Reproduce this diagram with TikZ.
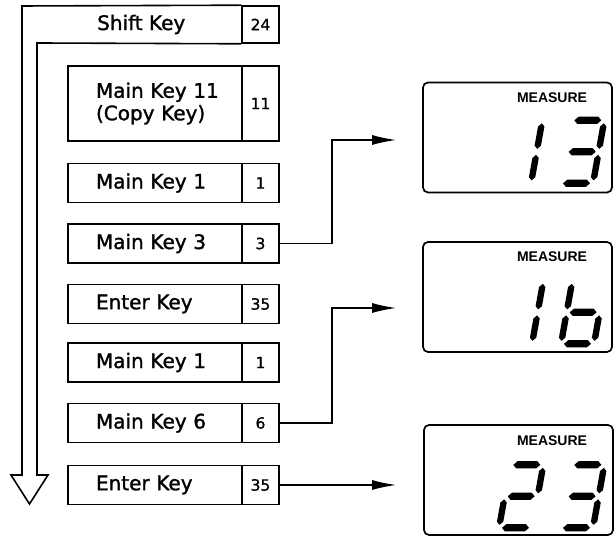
\documentclass[tikz,border=0pt]{standalone}
\usepackage{fontspec}
\setmainfont{DejaVu Sans}[FakeBold=1.4]
\newfontfamily\numfamily{DejaVu Sans}[FakeBold=1.0]
\newfontfamily\measfamily{Liberation Sans}
\usetikzlibrary{arrows.meta,calc}
\newcommand\myKeyFont{\fontsize{20}{22.5}\selectfont}
\newcommand\myNumFont{\numfamily\fontsize{15.5}{18}\selectfont}
\newcommand\myMeasFont{\measfamily\bfseries\fontsize{14}{16}\selectfont}
% seven-segment pieces (cell 33 x 63, unslanted)
\newcommand\lcdH[3]{\fill ({#1},{#3}) -- ({#1+3.6},{#3+3.6}) -- ({#2-3.6},{#3+3.6}) -- ({#2},{#3}) -- ({#2-3.6},{#3-3.6}) -- ({#1+3.6},{#3-3.6}) -- cycle;}
\newcommand\lcdV[3]{\fill ({#1},{#2}) -- ({#1+3.2},{#2+3.2}) -- ({#1+3.2},{#3-3.2}) -- ({#1},{#3}) -- ({#1-3.2},{#3-3.2}) -- ({#1-3.2},{#2+3.2}) -- cycle;}
\newcommand\sgA{\lcdH{3}{30}{63}}
\newcommand\sgG{\lcdH{3}{30}{31.5}}
\newcommand\sgD{\lcdH{3}{30}{0}}
\newcommand\sgB{\lcdV{33}{34.5}{60}}
\newcommand\sgC{\lcdV{33}{3}{28.5}}
\newcommand\sgE{\lcdV{0}{3}{28.5}}
\newcommand\sgF{\lcdV{0}{34.5}{60}}
\newcommand\lcddigit[2]{\begin{scope}[shift={#1},xslant=0.18]#2\end{scope}}
\begin{document}
\begin{tikzpicture}[x=1pt,y=1pt,line join=miter,
  keybox/.style={draw,line width=1.6pt,minimum width=174pt,minimum height=39pt,
    text width=118pt,inner xsep=28pt,inner ysep=0pt,align=left,font=\myKeyFont},
  numcell/.style={draw,line width=1.6pt,minimum width=37pt,minimum height=39pt,
    inner sep=0pt,font=\myNumFont},
  keytext/.style={inner sep=0pt,font=\myKeyFont},
  disp/.style={draw,line width=1.7pt,rounded corners=5pt,minimum width=189pt,
    minimum height=110pt,inner sep=0pt},
  measure/.style={inner sep=0pt,font=\myMeasFont},
  conn/.style={line width=1.4pt,-{Latex[length=24pt,width=10pt]}},
  outline/.style={line width=1.6pt}]
\useasboundingbox (0,0) rectangle (614,537);

% shift key with hollow arrow
\node[numcell,minimum height=37pt] (n1) at (260.5,512.5) {24};
\node[keytext,anchor=west] (shift) at (97,512.5) {Shift Key};
\draw[outline] (n1.north west) -- (22,531) -- (22,62) -- (11,62) -- (29.5,33)
  -- (48,62) -- (37,62) -- (37,494) -- (n1.south west);

% key boxes
\node[keybox,minimum height=75pt] (k2) at (155,433.5) {\mbox{Main Key 11}\\(Copy Key)};
\node[numcell,minimum height=75pt] (n2) at (260.5,433.5) {11};
\node[keybox] (k3) at (155,354) {Main Key 1};
\node[numcell] (n3) at (260.5,354) {1};
\node[keybox] (k4) at (155,293.5) {Main Key 3};
\node[numcell] (n4) at (260.5,293.5) {3};
\node[keybox] (k5) at (155,233) {Enter Key};
\node[numcell] (n5) at (260.5,233) {35};
\node[keybox] (k6) at (155,174.5) {Main Key 1};
\node[numcell] (n6) at (260.5,174.5) {1};
\node[keybox] (k7) at (155,114) {Main Key 6};
\node[numcell] (n7) at (260.5,114) {6};
\node[keybox] (k8) at (155,52) {Enter Key};
\node[numcell] (n8) at (260.5,52) {35};

% displays
\node[disp] (d1) at (517.5,399.5) {};
\node[disp] (d2) at (517.5,240) {};
\node[disp] (d3) at (518.5,57) {};
\node[measure] (m1) at ($(d1.north)+(34.5,-16)$) {MEASURE};
\node[measure] (m2) at ($(d2.north)+(34.5,-16)$) {MEASURE};
\node[measure] (m3) at ($(d3.north)+(33.5,-17)$) {MEASURE};

% LCD digits
\lcddigit{($(d1.south)+(-19.5,10)$)}{\sgB\sgC}
\lcddigit{($(d1.south)+(42.5,10)$)}{\sgA\sgB\sgG\sgC\sgD}
\lcddigit{($(d2.south)+(-18.5,9)$)}{\sgB\sgC}
\lcddigit{($(d2.south)+(43.5,9)$)}{\sgF\sgE\sgG\sgC\sgD}
\lcddigit{($(d3.south)+(-19.5,8)$)}{\sgA\sgB\sgG\sgE\sgD}
\lcddigit{($(d3.south)+(41.5,8)$)}{\sgA\sgB\sgG\sgC\sgD}

% connectors
\coordinate (e1) at ($(d1.west)+(-26,-2.5)$);
\coordinate (e2) at ($(d2.west)+(-26,-11)$);
\coordinate (e3) at ($(d3.west)+(-27,0)$);
\draw[conn] (n4.east) -- ++(52,0) |- (e1);
\draw[conn] (n7.east) -- ++(52,0) |- (e2);
\draw[conn] (n8.east) -- (e3 |- n8.east);
\end{tikzpicture}
\end{document}
